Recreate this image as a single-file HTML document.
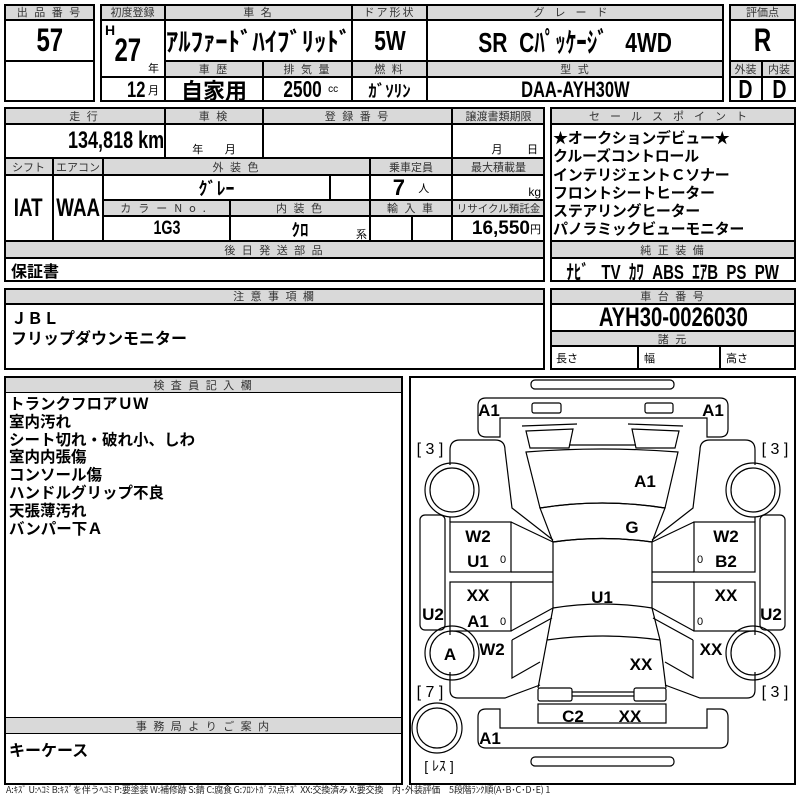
<!DOCTYPE html>
<html><head><meta charset="utf-8">
<style>
body{margin:0;background:#fff;}
#p{position:relative;width:800px;height:800px;overflow:hidden;background:#fff;font-family:"Liberation Sans","Noto Sans CJK JP",sans-serif;}
.c{position:absolute;box-sizing:border-box;border:1px solid #000;display:flex;align-items:center;justify-content:center;white-space:nowrap;}
.h{background:#d9d9d9;font-size:11px;color:#333;letter-spacing:2px;font-family:"Noto Sans CJK JP",sans-serif;}
.o{position:absolute;box-sizing:border-box;border:2px solid #000;}
.v{font-family:"Liberation Sans Narrow","Liberation Sans","Noto Sans CJK JP",sans-serif;font-weight:bold;}
.j{font-family:"Noto Sans CJK JP",sans-serif;font-weight:bold;}
.n{display:inline-block;transform:scaleX(.75);}
.t{position:absolute;white-space:nowrap;}
svg text{font-family:"Liberation Sans","Noto Sans CJK JP",sans-serif;font-weight:bold;font-size:17px;text-anchor:middle;}
</style></head><body><div id="p">
<!-- Box1 -->
<div class="c h" style="left:4px;top:4px;width:91px;height:16px">出 品 番 号</div>
<div class="c v" style="left:4px;top:20px;width:91px;height:41px;font-size:32px"><span class="n">57</span></div>
<div class="c" style="left:4px;top:61px;width:91px;height:41px"></div>
<div class="o" style="left:4px;top:4px;width:91px;height:98px"></div>
<!-- Box2 -->
<div class="c h" style="left:100px;top:4px;width:65px;height:16px;letter-spacing:0">初度登録</div>
<div class="c h" style="left:165px;top:4px;width:187px;height:16px">車 名</div>
<div class="c h" style="left:352px;top:4px;width:75px;height:16px">ドア形状</div>
<div class="c h" style="left:427px;top:4px;width:297px;height:16px;letter-spacing:10px">グレード</div>
<div class="c" style="left:100px;top:20px;width:65px;height:57px"></div>
<div class="t v" style="left:105px;top:22px;font-size:14px">H</div>
<div class="t v" style="left:110px;top:32px;font-size:32px"><span class="n">27</span></div>
<div class="t j" style="left:148px;top:60px;font-size:11px;font-weight:normal">年</div>
<div class="c j" style="left:165px;top:20px;width:187px;height:41px;font-size:26px"><span style="display:inline-block;transform:scaleX(.95)">ｱﾙﾌｧｰﾄﾞﾊｲﾌﾞﾘｯﾄﾞ</span></div>
<div class="c v" style="left:352px;top:20px;width:75px;height:41px;font-size:28px"><span class="n">5W</span></div>
<div class="c v" style="left:427px;top:20px;width:297px;height:41px;font-size:28px"><span class="n">SR&nbsp;&nbsp;Cﾊﾟｯｹｰｼﾞ&nbsp;&nbsp;&nbsp;4WD</span></div>
<div class="c h" style="left:165px;top:61px;width:98px;height:16px">車 歴</div>
<div class="c h" style="left:263px;top:61px;width:89px;height:16px">排 気 量</div>
<div class="c h" style="left:352px;top:61px;width:75px;height:16px">燃 料</div>
<div class="c h" style="left:427px;top:61px;width:297px;height:16px">型 式</div>
<div class="c" style="left:100px;top:77px;width:65px;height:25px;justify-content:flex-end;padding-right:5px"><span class="v n" style="font-size:22px">12</span><span style="font-size:11px">月</span></div>
<div class="c j" style="left:165px;top:77px;width:98px;height:25px;font-size:22px">自家用</div>
<div class="c" style="left:263px;top:77px;width:89px;height:25px"><span class="v n" style="font-size:23px">2500</span><span style="font-size:10px">cc</span></div>
<div class="c j" style="left:352px;top:77px;width:75px;height:25px;font-size:17px">ｶﾞｿﾘﾝ</div>
<div class="c v" style="left:427px;top:77px;width:297px;height:25px;font-size:22px"><span class="n">DAA-AYH30W</span></div>
<div class="o" style="left:100px;top:4px;width:624px;height:98px"></div>
<!-- Box3 -->
<div class="c h" style="left:729px;top:4px;width:67px;height:16px;letter-spacing:0">評価点</div>
<div class="c v" style="left:729px;top:20px;width:67px;height:41px;font-size:32px"><span class="n">R</span></div>
<div class="c h" style="left:729px;top:61px;width:33px;height:16px;letter-spacing:0">外装</div>
<div class="c h" style="left:762px;top:61px;width:34px;height:16px;letter-spacing:0">内装</div>
<div class="c v" style="left:729px;top:77px;width:33px;height:25px;font-size:26px"><span class="n">D</span></div>
<div class="c v" style="left:762px;top:77px;width:34px;height:25px;font-size:26px"><span class="n">D</span></div>
<div class="o" style="left:729px;top:4px;width:67px;height:98px"></div>
<!-- Row2 left -->
<div class="c h" style="left:4px;top:107px;width:161px;height:17px">走 行</div>
<div class="c h" style="left:165px;top:107px;width:98px;height:17px">車 検</div>
<div class="c h" style="left:263px;top:107px;width:189px;height:17px">登 録 番 号</div>
<div class="c h" style="left:452px;top:107px;width:93px;height:17px;letter-spacing:0">譲渡書類期限</div>
<div class="c v" style="left:4px;top:124px;width:161px;height:34px;justify-content:flex-end;padding-right:0;font-size:24px"><span class="n" style="transform-origin:right center">134,818 km</span></div>
<div class="c" style="left:165px;top:124px;width:98px;height:34px;align-items:flex-end;font-size:11px">年&nbsp;&nbsp;&nbsp;&nbsp;&nbsp;&nbsp;&nbsp;月</div>
<div class="c" style="left:263px;top:124px;width:189px;height:34px"></div>
<div class="c" style="left:452px;top:124px;width:93px;height:34px;align-items:flex-end;justify-content:flex-end;padding-right:6px;font-size:11px">月&nbsp;&nbsp;&nbsp;&nbsp;&nbsp;&nbsp;&nbsp;&nbsp;日</div>
<div class="c h" style="left:4px;top:158px;width:49px;height:17px;letter-spacing:0">シフト</div>
<div class="c h" style="left:53px;top:158px;width:50px;height:17px;letter-spacing:0">エアコン</div>
<div class="c h" style="left:103px;top:158px;width:267px;height:17px">外 装 色</div>
<div class="c h" style="left:370px;top:158px;width:82px;height:17px;letter-spacing:0">乗車定員</div>
<div class="c h" style="left:452px;top:158px;width:93px;height:17px;letter-spacing:0">最大積載量</div>
<div class="c v" style="left:4px;top:175px;width:49px;height:66px;font-size:25px"><span class="n">IAT</span></div>
<div class="c v" style="left:53px;top:175px;width:50px;height:66px;font-size:25px"><span class="n">WAA</span></div>
<div class="c j" style="left:103px;top:175px;width:227px;height:25px;font-size:18px">ｸﾞﾚｰ</div>
<div class="c" style="left:330px;top:175px;width:40px;height:25px"></div>
<div class="c" style="left:370px;top:175px;width:82px;height:25px"><span class="v" style="font-size:22px">7</span>&nbsp;&nbsp;&nbsp;<span style="font-size:11px">人</span></div>
<div class="c" style="left:452px;top:175px;width:93px;height:25px;justify-content:flex-end;align-items:flex-end;padding-right:3px;font-size:12px">kg</div>
<div class="c h" style="left:103px;top:200px;width:127px;height:16px;letter-spacing:7px">カラーNo.</div>
<div class="c h" style="left:230px;top:200px;width:140px;height:16px">内 装 色</div>
<div class="c h" style="left:370px;top:200px;width:82px;height:16px">輸 入 車</div>
<div class="c h" style="left:452px;top:200px;width:93px;height:16px;letter-spacing:0;font-size:10.5px">リサイクル預託金</div>
<div class="c v" style="left:103px;top:216px;width:127px;height:25px;font-size:19px"><span class="n">1G3</span></div>
<div class="c j" style="left:230px;top:216px;width:140px;height:25px;font-size:17px">ｸﾛ</div>
<div class="t" style="left:356px;top:226px;font-size:11px">系</div>
<div class="c" style="left:370px;top:216px;width:42px;height:25px"></div>
<div class="c" style="left:412px;top:216px;width:40px;height:25px"></div>
<div class="c" style="left:452px;top:216px;width:93px;height:25px;justify-content:flex-end;padding-right:3px"><span class="v" style="font-size:19px">16,550</span><span style="font-size:11px">円</span></div>
<div class="c h" style="left:4px;top:241px;width:541px;height:17px">後 日 発 送 部 品</div>
<div class="c j" style="left:4px;top:258px;width:541px;height:24px;justify-content:flex-start;padding-left:6px;font-size:16px">保証書</div>
<div class="o" style="left:4px;top:107px;width:541px;height:175px"></div>
<!-- Row2 right -->
<div class="c h" style="left:550px;top:107px;width:246px;height:17px;letter-spacing:10px">セールスポイント</div>
<div class="c j" style="left:550px;top:124px;width:246px;height:117px;display:block;padding:4px 0 0 2px;font-size:15px;line-height:18.3px;letter-spacing:-0.3px">★オークションデビュー★<br>クルーズコントロール<br>インテリジェントＣソナー<br>フロントシートヒーター<br>ステアリングヒーター<br>パノラミックビューモニター</div>
<div class="c h" style="left:550px;top:241px;width:246px;height:17px">純 正 装 備</div>
<div class="c v" style="left:550px;top:258px;width:246px;height:24px;font-size:20px"><span class="n">ﾅﾋﾞ&nbsp;&nbsp;&nbsp;TV&nbsp;&nbsp;ｶﾜ&nbsp;&nbsp;ABS&nbsp;&nbsp;ｴｱB&nbsp;&nbsp;PS&nbsp;&nbsp;PW</span></div>
<div class="o" style="left:550px;top:107px;width:246px;height:175px"></div>
<!-- Row3 -->
<div class="c h" style="left:4px;top:288px;width:541px;height:16px">注 意 事 項 欄</div>
<div class="c j" style="left:4px;top:304px;width:541px;height:66px;display:block;padding:2px 0 0 6px;font-size:16px;line-height:20px">ＪＢＬ<br>フリップダウンモニター</div>
<div class="o" style="left:4px;top:288px;width:541px;height:82px"></div>
<div class="c h" style="left:550px;top:288px;width:246px;height:16px">車 台 番 号</div>
<div class="c v" style="left:550px;top:304px;width:246px;height:27px;font-size:27px"><span class="n">AYH30-0026030</span></div>
<div class="c h" style="left:550px;top:331px;width:246px;height:15px">諸 元</div>
<div class="c" style="left:550px;top:346px;width:88px;height:24px;justify-content:flex-start;padding-left:5px;font-size:11px">長さ</div>
<div class="c" style="left:638px;top:346px;width:82px;height:24px;justify-content:flex-start;padding-left:5px;font-size:11px">幅</div>
<div class="c" style="left:720px;top:346px;width:76px;height:24px;justify-content:flex-start;padding-left:5px;font-size:11px">高さ</div>
<div class="o" style="left:550px;top:288px;width:246px;height:82px"></div>
<!-- Row4 left -->
<div class="c h" style="left:4px;top:376px;width:399px;height:17px">検 査 員 記 入 欄</div>
<div class="t j" style="left:9px;top:395px;font-size:15.5px;line-height:17.8px">トランクフロアＵＷ<br>室内汚れ<br>シート切れ・破れ小、しわ<br>室内内張傷<br>コンソール傷<br>ハンドルグリップ不良<br>天張薄汚れ<br>バンパー下Ａ</div>
<div class="c h" style="left:4px;top:717px;width:399px;height:17px">事 務 局 よ り ご 案 内</div>
<div class="t j" style="left:9px;top:737px;font-size:16px">キーケース</div>
<div class="o" style="left:4px;top:376px;width:399px;height:409px"></div>
<div class="o" style="left:409px;top:376px;width:387px;height:409px"></div>
<div class="t" style="left:6px;top:783px;font-size:9px;color:#222;font-family:'Noto Sans CJK JP',sans-serif;letter-spacing:-0.2px">A:ｷｽﾞ U:ﾍｺﾐ B:ｷｽﾞを伴うﾍｺﾐ P:要塗装 W:補修跡 S:錆 C:腐食 G:ﾌﾛﾝﾄｶﾞﾗｽ点ｷｽﾞ XX:交換済み X:要交換　内･外装評価　5段階ﾗﾝｸ順(A･B･C･D･E) 1</div>
<!-- car -->
<svg style="position:absolute;left:0;top:0" width="800" height="800" fill="none" stroke="#000" stroke-width="1.2">
<rect x="531" y="380" width="143" height="9" rx="4"/>
<rect x="531" y="757" width="143" height="9" rx="4"/>
<path d="M486,398 H720 Q728,398 728,406 V429 Q728,437 720,437 H707 V418 H500 V437 H486 Q478,437 478,429 V406 Q478,398 486,398 Z"/>
<rect x="532" y="403" width="29" height="10" rx="2"/><rect x="645" y="403" width="28" height="10" rx="2"/>
<path d="M478,717 Q478,709 486,709 H500 V728 H707 V709 H720 Q728,709 728,717 V740 Q728,748 720,748 H486 Q478,748 478,740 Z"/>
<path d="M522,426 L577,424 M526,431 L573,429 L569,448 L530,448 Z M683,426 L628,424 M679,431 L632,429 L636,448 L675,448 Z M569,445 L636,445"/>
<path d="M526,452 Q602,446 678,452 L665,508 Q602,498 540,508 Z"/>
<path d="M540,508 Q602,498 665,508 L652,542 Q602,535 553,542 Z"/>
<path d="M553,542 Q602,535 652,542 L652,608 Q602,600 553,608 Z"/>
<path d="M553,608 L547,640 Q602,632 660,640 L652,608 M547,640 L538,688 M660,640 L666,688"/>
<rect x="538" y="688" width="34" height="13" rx="2"/><rect x="634" y="688" width="32" height="13" rx="2"/>
<path d="M572,692 H634 M572,696 H634"/>
<rect x="538" y="704" width="128" height="19"/>
<g id="L">
<path d="M450,465 V450 Q450,440 460,440 H495 Q505,440 505,450 L512,508 L553,540"/>
<rect x="450" y="522" width="61" height="50"/><rect x="450" y="582" width="61" height="49"/>
<path d="M511,572 H553 M511,582 H553 M511,522 L553,542 M511,631 L553,608"/>
<path d="M450,517 V522 M450,631 V635"/>
<path d="M512,640 L552,618 M512,640 V678 L540,662 M450,672 V690 Q450,698 458,698 H505 L540,685"/>
<rect x="420" y="515" width="25" height="115" rx="5"/>
<circle cx="452" cy="490" r="27"/><circle cx="452" cy="490" r="22"/>
<circle cx="452" cy="653" r="27"/><circle cx="452" cy="653" r="22"/>
</g>
<use href="#L" transform="translate(1205,0) scale(-1,1)"/>
<circle cx="437" cy="728" r="25"/><circle cx="437" cy="728" r="20"/>
<g fill="#000" stroke="none">
<text x="489" y="416">A1</text><text x="713" y="416">A1</text>
<text x="645" y="487">A1</text><text x="632" y="533">G</text>
<text x="478" y="542">W2</text><text x="478" y="567">U1</text>
<text x="726" y="542">W2</text><text x="726" y="567">B2</text>
<text x="478" y="601">XX</text><text x="478" y="627">A1</text>
<text x="602" y="603">U1</text><text x="726" y="601">XX</text>
<text x="433" y="620">U2</text><text x="771" y="620">U2</text>
<text x="450" y="660">A</text><text x="492" y="655">W2</text>
<text x="711" y="655">XX</text><text x="641" y="670">XX</text>
<text x="573" y="722">C2</text><text x="630" y="722">XX</text>
<text x="490" y="744">A1</text>
<text x="430" y="454" style="font-weight:normal;font-size:16px">[ 3 ]</text>
<text x="775" y="454" style="font-weight:normal;font-size:16px">[ 3 ]</text>
<text x="430" y="697" style="font-weight:normal;font-size:16px">[ 7 ]</text>
<text x="775" y="697" style="font-weight:normal;font-size:16px">[ 3 ]</text>
<text x="439" y="771" style="font-weight:normal;font-size:14px">[ ﾚｽ ]</text>
<text x="503" y="563" style="font-weight:normal;font-size:11px">0</text>
<text x="503" y="625" style="font-weight:normal;font-size:11px">0</text>
<text x="700" y="563" style="font-weight:normal;font-size:11px">0</text>
<text x="700" y="625" style="font-weight:normal;font-size:11px">0</text>
</g>
</svg>
</div></body></html>
